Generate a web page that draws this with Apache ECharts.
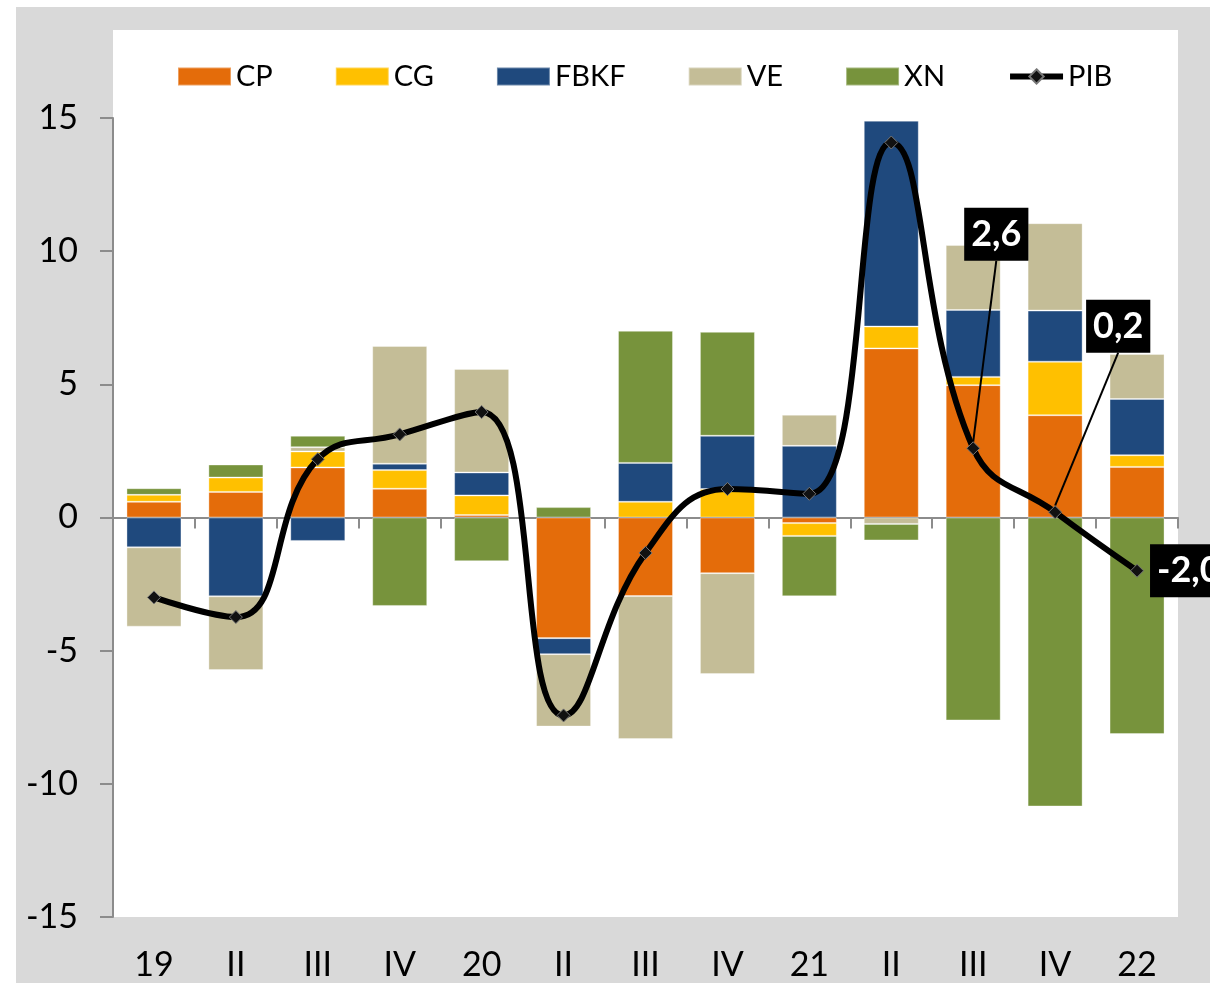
<!DOCTYPE html>
<html>
<head>
<meta charset="utf-8">
<script src="https://cdn.jsdelivr.net/npm/echarts@6/dist/echarts.min.js"></script>
<style>
  html, body { margin: 0; padding: 0; background: #ffffff; }
  #wrap { position: relative; width: 1210px; height: 983px; overflow: hidden; }
  #outer { position: absolute; left: 16px; top: 7px; right: 0; bottom: 0; background: #d9d9d9; }
  #inner { position: absolute; left: 113px; top: 30px; width: 1065px; height: 887px; background: #ffffff; }
  #chart { position: absolute; left: 0; top: 0; width: 1210px; height: 983px; }
</style>
</head>
<body>
<div id="wrap">
  <div id="outer"></div>
  <div id="inner"></div>
  <div id="chart"></div>
</div>
<script>
// ---- data ----
const categories = ['19', 'II', 'III', 'IV', '20', 'II', 'III', 'IV', '21', 'II', 'III', 'IV', '22'];
const CP   = [0.59, 0.96, 1.88, 1.08, 0.09, -4.53, -2.95, -2.09, -0.21, 6.35, 4.97, 3.84, 1.90];
const CG   = [0.26, 0.54, 0.60, 0.70, 0.74, 0.00, 0.59, 1.07, -0.48, 0.82, 0.31, 2.01, 0.44];
const FBKF = [-1.12, -2.96, -0.88, 0.24, 0.86, -0.60, 1.46, 2.00, 2.69, 7.73, 2.51, 1.92, 2.11];
const VE   = [-2.98, -2.77, 0.16, 4.42, 3.89, -2.72, -5.37, -3.79, 1.17, -0.24, 2.44, 3.28, 1.69];
const XN   = [0.25, 0.49, 0.43, -3.32, -1.64, 0.39, 4.96, 3.90, -2.27, -0.62, -7.62, -10.85, -8.13];
const PIB  = [-3.00, -3.74, 2.19, 3.12, 3.96, -7.43, -1.33, 1.07, 0.89, 14.08, 2.6, 0.2, -2.0];
const labeledPoints = [10, 11, 12];
const yTicks = [-15, -10, -5, 0, 5, 10, 15];

// ---- styling ----
const FONT = 'Lato';
const colors = { CP: '#E46C0A', CG: '#FFC000', FBKF: '#1F497D', VE: '#C4BD97', XN: '#77933C' };
const labelShift = { 10: [-22, -214], 11: [18, -186] };

function barSeries(name, values) {
  return {
    name: name,
    type: 'bar',
    stack: 'total',
    barWidth: 55,
    data: values,
    itemStyle: { color: colors[name], borderColor: 'rgba(255,255,255,0.35)', borderWidth: 1 },
    emphasis: { disabled: true },
    z: 2
  };
}

const pibData = PIB.map(function (v, i) {
  if (labeledPoints.indexOf(i) < 0) return v;
  const item = { value: v, label: { show: true } };
  if (labelShift[i]) item.labelLine = { show: true, length2: 0, lineStyle: { color: '#000', width: 2 } };
  return item;
});

const chart = echarts.init(document.getElementById('chart'), null, { renderer: 'canvas' });
chart.setOption({
  backgroundColor: 'transparent',
  animation: false,
  textStyle: { fontFamily: FONT },
  legend: {
    top: 62,
    left: 177,
    padding: 0,
    itemWidth: 53,
    itemHeight: 18,
    itemGap: 62,
    textStyle: { fontFamily: FONT, fontSize: 29, color: '#000' },
    data: [
      { name: 'CP', icon: 'rect' },
      { name: 'CG', icon: 'rect' },
      { name: 'FBKF', icon: 'rect' },
      { name: 'VE', icon: 'rect' },
      { name: 'XN', icon: 'rect' },
      { name: 'PIB', lineStyle: { color: '#000', width: 6 } }
    ]
  },
  grid: { left: 113, right: 32, top: 118, bottom: 66, containLabel: false },
  xAxis: [
    {
      type: 'category',
      data: categories,
      position: 'bottom',
      axisLine: { show: true, onZero: true, lineStyle: { color: '#8c8c8c', width: 2 } },
      axisTick: { show: true, length: 11, lineStyle: { color: '#8c8c8c', width: 2 } },
      axisLabel: { show: false },
      splitLine: { show: false }
    },
    {
      type: 'category',
      data: categories,
      position: 'bottom',
      axisLine: { show: false, onZero: false },
      axisTick: { show: false },
      axisLabel: { show: true, margin: 31, fontFamily: FONT, fontSize: 34, color: '#000' },
      splitLine: { show: false }
    }
  ],
  yAxis: {
    type: 'value',
    min: yTicks[0],
    max: yTicks[yTicks.length - 1],
    interval: 5,
    axisLine: { show: true, lineStyle: { color: '#8c8c8c', width: 2 } },
    axisTick: { show: true, length: 13, lineStyle: { color: '#8c8c8c', width: 2 } },
    axisLabel: { margin: 35, fontFamily: FONT, fontSize: 34, color: '#000' },
    splitLine: { show: false }
  },
  series: [
    barSeries('CP', CP),
    barSeries('CG', CG),
    barSeries('FBKF', FBKF),
    barSeries('VE', VE),
    barSeries('XN', XN),
    {
      name: 'PIB',
      type: 'line',
      data: pibData,
      smooth: 0.45,
      symbol: 'diamond',
      symbolSize: 13,
      showSymbol: true,
      lineStyle: { color: '#000', width: 6 },
      itemStyle: { color: '#111', borderColor: '#777', borderWidth: 1 },
      emphasis: { disabled: true },
      z: 5,
      label: {
        show: false,
        position: 'right',
        distance: 6,
        formatter: function (p) { return p.value.toFixed(1).replace('.', ','); },
        backgroundColor: '#000',
        color: '#fff',
        fontFamily: FONT,
        fontWeight: 'bold',
        fontSize: 36,
        lineHeight: 40,
        padding: [7, 7, 6, 7]
      },
      labelLayout: function (p) {
        const s = labelShift[p.dataIndex];
        return s ? { dx: s[0], dy: s[1] } : {};
      }
    }
  ]
});
</script>
</body>
</html>
